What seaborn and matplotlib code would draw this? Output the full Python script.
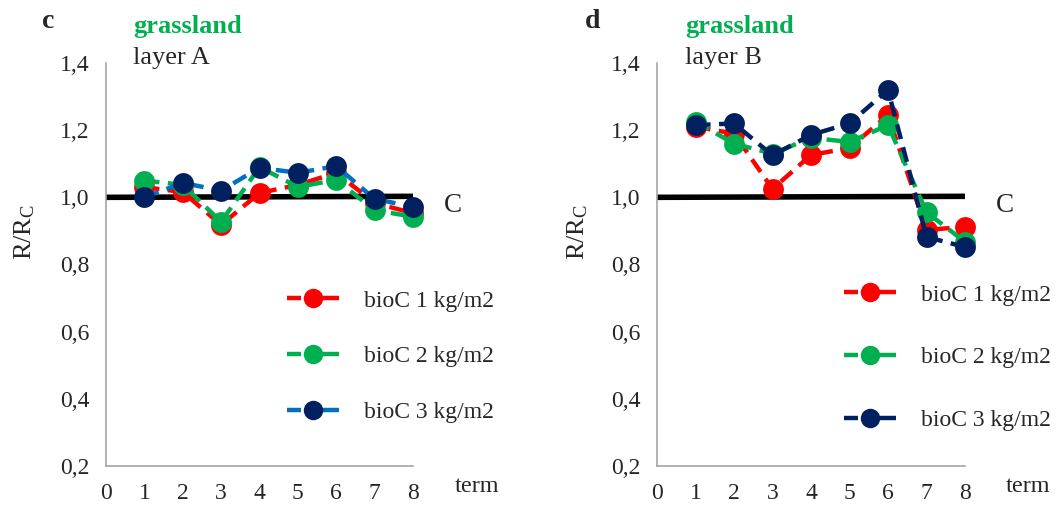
import numpy as np
import pandas as pd
import matplotlib
matplotlib.use("Agg")
import matplotlib.pyplot as plt
from matplotlib.lines import Line2D
import seaborn as sns

# data
terms = [1, 2, 3, 4, 5, 6, 7, 8]
series_labels = ["bioC 1 kg/m2", "bioC 2 kg/m2", "bioC 3 kg/m2"]

layer_a_1 = [1.030, 1.016, 0.918, 1.013, 1.037, 1.073, 0.983, 0.953]
layer_a_2 = [1.050, 1.037, 0.927, 1.090, 1.031, 1.052, 0.962, 0.942]
layer_a_3 = [1.000, 1.043, 1.020, 1.088, 1.073, 1.093, 0.995, 0.972]

layer_b_1 = [1.210, 1.190, 1.025, 1.126, 1.147, 1.245, 0.903, 0.912]
layer_b_2 = [1.225, 1.160, 1.130, 1.177, 1.165, 1.215, 0.956, 0.867]
layer_b_3 = [1.215, 1.220, 1.125, 1.186, 1.220, 1.320, 0.882, 0.852]

control_x = [0, 8]
control_y = [1.0, 1.003]

y_ticks = [0.2, 0.4, 0.6, 0.8, 1.0, 1.2, 1.4]
x_ticks = [0, 1, 2, 3, 4, 5, 6, 7, 8]

sns.set_style("white")
plt.rcParams['font.family'] = ['Liberation Serif', 'DejaVu Serif']
plt.rcParams['mathtext.fontset'] = 'stix'

W, H = 1056, 507
fig = plt.figure(figsize=(W / 100, H / 100), dpi=100)

LW = 3.2
DASH = (0, (3.4, 1.9))
LEG_DASH = (0, (3.15, 1.35, 9.0, 0.01))  # excel-like "- o-" legend key


def px_box(x0, x1, y_top, y_bot):
    return [x0 / W, 1 - y_bot / H, (x1 - x0) / W, (y_bot - y_top) / H]


def draw_panel(ax, vals, line_colors, marker_colors, leg_pos, leg_space):
    # control line
    ax.plot(control_x, control_y, color="black", lw=4, zorder=1, solid_capstyle="butt")
    handles = []
    for i, (v, lc, mc) in enumerate(zip(vals, line_colors, marker_colors)):
        df = pd.DataFrame({"term": terms, "ratio": v})
        sns.lineplot(data=df, x="term", y="ratio", ax=ax, color=lc, lw=LW,
                     linestyle=DASH, marker="o", markersize=15,
                     markerfacecolor=mc, markeredgecolor=mc, markeredgewidth=0,
                     zorder=2 + i, legend=False)
        handles.append(Line2D([], [], color=lc, lw=LW, linestyle=LEG_DASH,
                              marker="o", markersize=14, markerfacecolor=mc,
                              markeredgewidth=0))
    ax.set_xlim(0, 8)
    ax.set_ylim(0.2, 1.4)
    ax.set_xticks(x_ticks)
    ax.set_yticks(y_ticks)
    ax.set_yticklabels([f"{t:.1f}".replace(".", ",") for t in y_ticks])
    ax.set_xlabel("")
    ax.set_ylabel("")
    for s in ["top", "right"]:
        ax.spines[s].set_visible(False)
    for s in ["left", "bottom"]:
        ax.spines[s].set_color("#A6A6A6")
        ax.spines[s].set_linewidth(1.2)
    ax.tick_params(axis="both", direction="out", length=6, width=1.2,
                   color="#A6A6A6", labelsize=17, pad=6)
    ax.legend(handles=handles, labels=series_labels, loc="upper left",
              bbox_to_anchor=leg_pos, frameon=False, fontsize=17,
              handlelength=2.2, labelspacing=leg_space, handletextpad=1.06)
    for ln in ax.get_lines():
        ln.set_clip_on(False)


ax1 = fig.add_axes(px_box(106, 413, 63, 466))
ax2 = fig.add_axes(px_box(657, 965, 63, 466))

draw_panel(ax1, [layer_a_1, layer_a_2, layer_a_3],
           ["#FF0000", "#00B050", "#0070C0"], ["#FF0000", "#00B050", "#002060"],
           (0.52, 0.489), 1.45)
draw_panel(ax2, [layer_b_1, layer_b_2, layer_b_3],
           ["#FF0000", "#00B050", "#002060"], ["#FF0000", "#00B050", "#002060"],
           (0.537, 0.504), 1.74)

# annotations
for lx, letter, glx, layer, ylx, cx, tx in [(48, "c", 133, "layer A", 25, 453, 477),
                                           (593, "d", 685, "layer B", 578, 1005, 1028)]:
    fig.text(lx / W, 1 - 21 / H, letter, fontsize=20, fontweight="bold",
             ha="center", va="center")
    fig.text(glx / W, 1 - 27 / H, "grassland", fontsize=19, fontweight="bold",
             color="#00B050", ha="left", va="center")
    fig.text(glx / W, 1 - 58 / H, layer, fontsize=19, ha="left", va="center")
    fig.text(ylx / W, 1 - 232 / H, r"R/R$_\mathregular{C}$", fontsize=19,
             rotation=90, ha="center", va="center")
    fig.text(cx / W, 1 - 205 / H, "C", fontsize=19.5, ha="center", va="center")
    fig.text(tx / W, 1 - 487 / H, "term", fontsize=17.5, ha="center", va="center")

fig.savefig("out.png", dpi=100)
